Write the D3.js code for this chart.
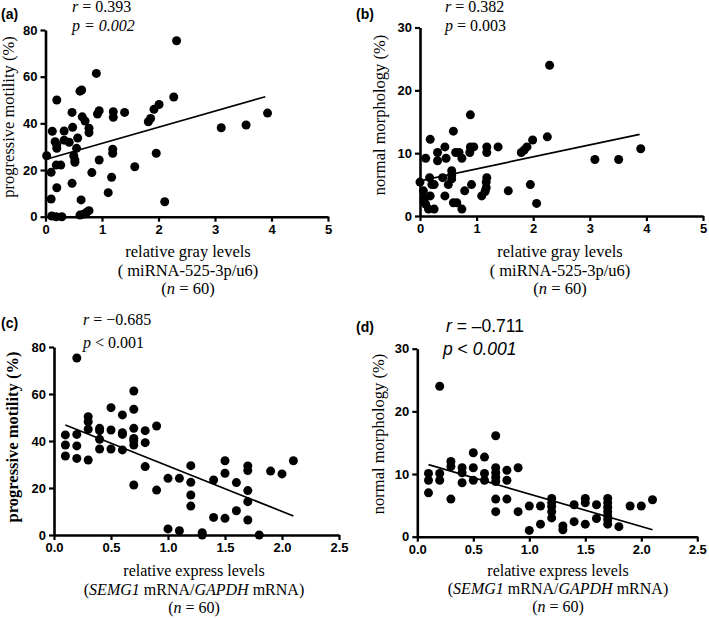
<!DOCTYPE html>
<html><head><meta charset="utf-8">
<script src="https://cdn.jsdelivr.net/npm/d3@7"></script>
<style>
body{margin:0;background:#fff;}
svg{display:block;}
</style></head>
<body>
<svg id="chart" width="709" height="618"></svg>
<script>
// ---- Data ----
// Panel (a): miRNA-525-3p/u6 vs progressive motility
const aX = [0.9,0.61,0.64,0.2,0.47,0.65,0.7,0.95,0.92,1.2,1.2,1.4,1.82,1.86,1.92,2.01,0.12,0.33,0.48,0.77,0.77,0.17,0.2,0.2,0.33,0.42,0.57,0.55,0.02,0.5,0.52,0.52,0.19,0.27,1.19,1.19,0.95,0.1,0.82,1.58,1.96,1.17,0.2,0.47,1.11,0.1,0.63,2.11,0.11,0.19,0.29,0.61,0.67,0.73,0.77,2.27,2.32,3.11,3.55,3.93];
const aY = [61.4,53.8,54.3,50.0,44.7,42.8,41.0,45.4,44.0,45.0,42.6,44.7,40.7,42.1,46.0,48.1,36.6,36.7,38.3,37.9,36.0,32.1,30.7,29.3,32.8,31.9,33.7,29.3,26.1,26.1,24.3,23.3,22.1,22.1,28.9,27.2,24.3,19.0,18.9,21.4,27.2,16.9,12.4,14.3,10.3,7.6,7.2,6.4,0.3,0.0,0.0,0.7,1.1,1.9,2.6,51.3,75.4,38.1,39.3,44.4];
const aLine = {x: [0, 3.89], y: [24.5, 51.4]};

// Panel (b): miRNA-525-3p/u6 vs normal morphology
const bX = [0.0,0.06,0.07,0.07,0.1,0.1,0.15,0.25,0.18,0.17,0.21,0.25,0.18,0.31,0.31,0.4,0.44,0.46,0.44,0.5,0.56,0.56,0.56,0.59,0.59,0.65,0.63,0.69,0.74,0.74,0.79,0.89,0.89,0.95,0.88,0.91,1.18,1.18,1.18,1.17,1.17,1.15,1.09,1.38,1.56,1.79,1.84,1.89,1.99,1.95,2.06,2.25,2.29,3.09,3.51,3.9];
const bY = [5.4,4.0,2.8,2.4,9.2,1.9,1.1,1.1,12.2,6.1,5.0,5.0,3.2,10.1,8.8,6.1,11.0,9.2,3.2,5.0,7.2,6.5,5.9,13.5,2.1,2.1,10.1,10.1,9.2,1.1,4.0,16.1,11.0,11.0,10.1,5.0,11.0,10.1,6.1,5.4,4.5,3.9,3.2,11.0,4.0,10.1,10.5,11.0,12.1,5.0,2.0,12.6,24.0,9.0,9.0,10.7];
const bLine = {x: [0, 3.88], y: [5.6, 13.0]};

// Panel (c): SEMG1/GAPDH vs progressive motility
const cX = [0.1,0.1,0.1,0.2,0.2,0.2,0.2,0.3,0.3,0.3,0.3,0.4,0.4,0.4,0.4,0.5,0.5,0.5,0.6,0.6,0.6,0.6,0.7,0.7,0.7,0.7,0.7,0.7,0.7,0.8,0.8,0.8,0.9,0.9,1.0,1.0,1.1,1.1,1.2,1.2,1.2,1.2,1.3,1.3,1.4,1.4,1.5,1.5,1.5,1.6,1.6,1.7,1.7,1.7,1.7,1.7,1.8,1.9,2.0,2.1];
const cY = [42.6,38.3,33.6,75.3,42.8,37.9,32.6,50.3,48.2,45.0,31.9,45.4,44.4,40.7,36.6,54.2,44.7,36.6,51.1,43.5,42.8,36.2,61.3,53.5,45.4,41.1,40.1,38.3,21.3,44.4,39.3,29.1,46.4,19.1,24.1,2.6,24.1,1.8,29.5,22.4,17.0,12.3,1.0,0.0,23.4,7.5,31.6,26.3,7.1,22.3,10.3,29.4,27.4,18.9,14.2,6.4,0.0,27.2,26.0,31.6];
const cLine = {x: [0.1, 2.1], y: [46.8, 8.1]};

// Panel (d): SEMG1/GAPDH vs normal morphology
const dX = [0.1,0.1,0.1,0.2,0.2,0.2,0.3,0.3,0.3,0.4,0.4,0.4,0.5,0.5,0.5,0.6,0.6,0.6,0.7,0.7,0.7,0.7,0.7,0.7,0.7,0.8,0.8,0.8,0.9,0.9,1.0,1.0,1.1,1.1,1.2,1.2,1.2,1.2,1.2,1.3,1.3,1.4,1.4,1.5,1.5,1.5,1.6,1.6,1.7,1.7,1.7,1.7,1.7,1.7,1.7,1.8,1.9,2.0,2.1];
const dY = [10.1,9.0,7.0,24.0,10.1,9.0,12.0,11.2,6.0,11.0,10.2,8.6,13.4,11.0,9.0,12.7,10.1,9.0,16.1,11.0,10.2,9.5,8.8,6.0,4.0,10.6,9.0,6.0,11.0,4.0,4.9,1.0,4.9,2.0,6.1,5.4,4.8,4.0,3.0,1.7,1.1,5.1,2.4,6.1,5.4,2.0,5.1,2.9,6.1,5.4,4.7,4.0,3.3,2.7,2.0,1.6,4.9,4.9,5.9];
const dLine = {x: [0.1, 2.1], y: [11.5, 1.1]};

const xTicksMi = [0,1,2,3,4,5];
const xTicksSe = [0.0,0.5,1.0,1.5,2.0,2.5];
const yTicksMot = [0,20,40,60,80];
const yTicksMor = [0,10,20,30];

// ---- Drawing ----
const svg = d3.select("#chart");
const SERIF = "'Liberation Serif','Times New Roman',serif";
const SANS = "'Liberation Sans',Arial,sans-serif";

const panels = [
  {id:"a", xs:aX, ys:aY, line:aLine, xr:[45.5,328], yr:[216.7,30], xd:[0,5], yd:[0,80], xt:xTicksMi, yt:yTicksMot, xf:d3.format("d")},
  {id:"b", xs:bX, ys:bY, line:bLine, xr:[420,703], yr:[216,27.5], xd:[0,5], yd:[0,30], xt:xTicksMi, yt:yTicksMor, xf:d3.format("d")},
  {id:"c", xs:cX, ys:cY, line:cLine, xr:[54,339], yr:[535,347], xd:[0,2.5], yd:[0,80], xt:xTicksSe, yt:yTicksMot, xf:d3.format(".1f")},
  {id:"d", xs:dX, ys:dY, line:dLine, xr:[417.3,697.3], yr:[536.7,348.7], xd:[0,2.5], yd:[0,30], xt:xTicksSe, yt:yTicksMor, xf:d3.format(".1f")}
];

panels.forEach(p => {
  const x = d3.scaleLinear().domain(p.xd).range(p.xr);
  const y = d3.scaleLinear().domain(p.yd).range(p.yr);
  const g = svg.append("g");

  const xa = g.append("g").attr("transform", `translate(0,${p.yr[0]})`)
    .call(d3.axisBottom(x).tickValues(p.xt).tickFormat(p.xf).tickSize(5).tickSizeOuter(0).tickPadding(3));
  const ya = g.append("g").attr("transform", `translate(${p.xr[0]},0)`)
    .call(d3.axisLeft(y).tickValues(p.yt).tickSize(5).tickSizeOuter(0).tickPadding(3));
  [xa, ya].forEach(a => {
    a.select(".domain").attr("stroke", "#000").attr("stroke-width", 2.6);
    a.selectAll(".tick line").attr("stroke", "#000").attr("stroke-width", 2.2);
    a.selectAll(".tick text").attr("fill", "#000").style("font-family", SANS)
      .style("font-weight", "bold").style("font-size", "13px");
  });

  const pts = p.xs.map((v, i) => [v, p.ys[i]]);
  g.append("g").selectAll("circle").data(pts).join("circle")
    .attr("cx", d => x(d[0])).attr("cy", d => y(d[1])).attr("r", 4.5).attr("fill", "#000");

  g.append("line")
    .attr("x1", x(p.line.x[0])).attr("y1", y(p.line.y[0]))
    .attr("x2", x(p.line.x[1])).attr("y2", y(p.line.y[1]))
    .attr("stroke", "#000").attr("stroke-width", 1.7);
});

// Panel letters
[["(a)",1,19],["(b)",356,19],["(c)",1,328],["(d)",356,332]].forEach(t => {
  svg.append("text").attr("x", t[1]).attr("y", t[2]).text(t[0])
    .style("font-family", SANS).style("font-weight", "bold").style("font-size", "14px");
});

function rich(x, y, parts, opts) {
  const t = svg.append("text").attr("x", x).attr("y", y)
    .style("font-family", opts.family).style("font-size", opts.size + "px")
    .attr("text-anchor", opts.anchor || "start");
  if (opts.weight) t.style("font-weight", opts.weight);
  if (opts.rotate) t.attr("transform", `rotate(-90,${x},${y})`);
  parts.forEach(pt => {
    const s = t.append("tspan").text(pt[0]);
    if (pt[1]) s.style("font-style", "italic");
  });
  return t;
}

// statistics
rich(72, 12, [["r",1],[" = 0.393",0]], {family:SERIF, size:16});
rich(72, 31, [["p = 0.002",1]], {family:SERIF, size:16});
rich(445, 12, [["r",1],[" = 0.382",0]], {family:SERIF, size:16});
rich(445, 31, [["p",1],[" = 0.003",0]], {family:SERIF, size:16});
rich(83, 325, [["r",1],[" = \u22120.685",0]], {family:SERIF, size:16});
rich(83, 348, [["p",1],[" < 0.001",0]], {family:SERIF, size:16});
rich(446, 332, [["r",1],[" = \u20130.711",0]], {family:SANS, size:17.5});
rich(443, 355, [["p",1],[" < ",0],["0.001",1]], {family:SANS, size:17.5});

// y-axis titles
rich(14, 117, [["progressive motility (%)",0]], {family:SERIF, size:16.5, anchor:"middle", rotate:true});
rich(385, 115, [["normal morphology (%)",0]], {family:SERIF, size:16.5, anchor:"middle", rotate:true});
rich(18, 437, [["progressive motility (%)",0]], {family:SERIF, size:16.5, anchor:"middle", rotate:true, weight:"bold"});
rich(384, 434, [["normal morphology (%)",0]], {family:SERIF, size:16.5, anchor:"middle", rotate:true});

// x-axis titles
[[188, 257], [560, 257]].forEach(c => {
  rich(c[0], c[1], [["relative gray levels",0]], {family:SERIF, size:16.5, anchor:"middle"});
  rich(c[0], c[1] + 19, [["( miRNA-525-3p/u6)",0]], {family:SERIF, size:16.5, anchor:"middle"});
  rich(c[0], c[1] + 37, [["(",0],["n",1],[" = 60)",0]], {family:SERIF, size:16.5, anchor:"middle"});
});
[[194, 576, 595, 613], [558, 576, 594, 612]].forEach(c => {
  rich(c[0], c[1], [["relative express levels",0]], {family:SERIF, size:16, anchor:"middle"});
  rich(c[0], c[2], [["(",0],["SEMG1",1],[" mRNA/",0],["GAPDH",1],[" mRNA)",0]], {family:SERIF, size:16, anchor:"middle"});
  rich(c[0], c[3], [["(",0],["n",1],[" = 60)",0]], {family:SERIF, size:16, anchor:"middle"});
});
</script>
</body></html>
